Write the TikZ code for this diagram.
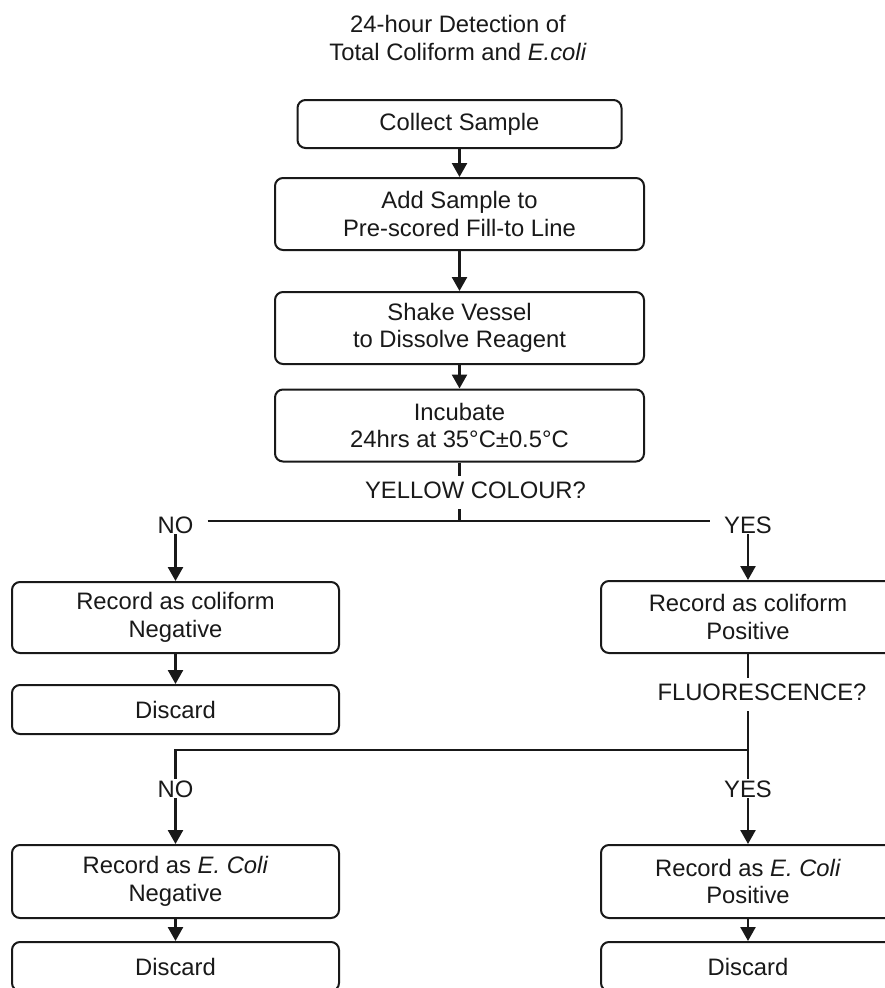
\documentclass[tikz,border=0pt]{standalone}
\usepackage{fontspec}
\setmainfont{Liberation Sans}
\usetikzlibrary{arrows.meta}
\begin{document}
\begin{tikzpicture}[x=1pt,y=-1pt,
  every node/.style={font=\fontsize{23.8}{27.5}\selectfont, text=black!90},
  box/.style={draw=black!90, line width=2pt, rounded corners=8pt, inner sep=0pt, align=center},
  dec/.style={inner xsep=2pt, inner ysep=5pt, text height=17pt, text depth=6pt},
  lbl/.style={inner xsep=14pt, inner ysep=1pt, text height=17pt, text depth=0pt},
  conn/.style={line width=2.5pt, draw=black!90},
  arr/.style={conn, -{Triangle[width=15pt,length=14pt]}}
]
\useasboundingbox (0,0) rectangle (885,988);
\fill[white] (0,0) rectangle (885,988);
\clip (0,0) rectangle (885,988);

\node[align=center] (title) at (458,38) {24-hour Detection of\\Total Coliform and \textit{E.coli}};

\node[box, minimum width=324pt, minimum height=48pt] (collect) at (459.5,124) {Collect Sample};
\node[box, minimum width=369pt, minimum height=72pt] (add) at (459.5,214) {Add Sample to\\Pre-scored Fill-to Line};
\node[box, minimum width=369pt, minimum height=72pt] (shake) at (459.5,328) {Shake Vessel\\to Dissolve Reagent};
\node[box, minimum width=369pt, minimum height=72pt] (incubate) at (459.5,425.5) {Incubate\\24hrs at 35°C±0.5°C};

\node[dec] (yc) at (475.5,492.5) {YELLOW COLOUR?};
\node[lbl] (no1) at (175.5,524.5) {NO};
\node[lbl] (yes1) at (748,524.5) {YES};
\coordinate (j1) at (459.5,521);

\node[box, minimum width=327pt, minimum height=71pt] (negc) at (175.5,617.5) {Record as coliform\\Negative};
\node[box, minimum width=327pt, minimum height=49pt] (disc1) at (175.5,709.5) {Discard};
\node[box, minimum width=294pt, minimum height=72pt] (posc) at (748,617) {Record as coliform\\Positive};

\node[dec] (fl) at (762,694.5) {FLUORESCENCE?};
\coordinate (j2) at (748,750);
\node[lbl] (no2) at (175.5,788.5) {NO};
\node[lbl] (yes2) at (748,788.5) {YES};

\node[box, minimum width=327pt, minimum height=73pt] (negE) at (175.5,881.5) {Record as \textit{E. Coli}\\Negative};
\node[box, minimum width=294pt, minimum height=73pt] (posE) at (748,881.5) {Record as \textit{E. Coli}\\Positive};
\node[box, minimum width=327pt, minimum height=49pt] (disc2) at (175.5,966.5) {Discard};
\node[box, minimum width=294pt, minimum height=49pt] (disc3) at (748,966.5) {Discard};

\draw[arr] (collect) -- (add);
\draw[arr] (add) -- (shake);
\draw[arr] (shake) -- (incubate);
\draw[conn] (incubate.south) -- (incubate.south |- yc.north);
\draw[conn] (incubate.south |- yc.south) -- (j1);
\draw[conn] (no1.east |- j1) -- (yes1.west |- j1);
\draw[arr] (no1.south) -- (negc.north);
\draw[arr] (yes1.south) -- (posc.north);
\draw[arr] (negc) -- (disc1);
\draw[conn] (posc.south) -- (posc.south |- fl.north);
\draw[conn] (posc.south |- fl.south) -- (j2) -- (yes2.north);
\draw[conn] (j2) -- (j2 -| no2.north) -- (no2.north);
\draw[arr] (no2.south) -- (negE.north);
\draw[arr] (yes2.south) -- (posE.north);
\draw[arr] (negE) -- (disc2);
\draw[arr] (posE) -- (disc3);
\end{tikzpicture}
\end{document}
